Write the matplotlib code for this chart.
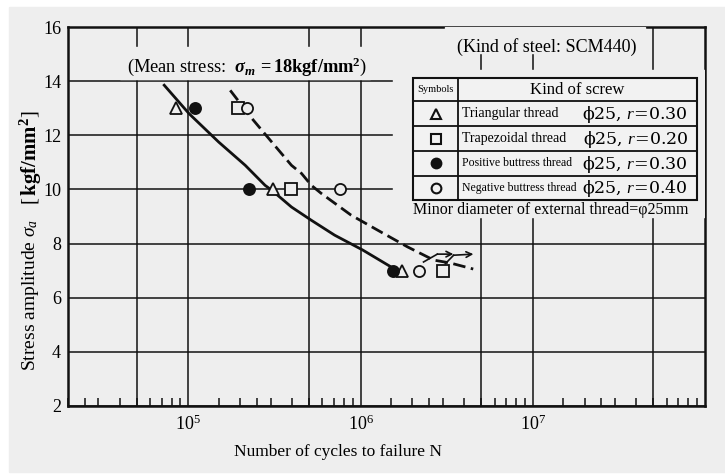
import numpy as np
import matplotlib.pyplot as plt
from matplotlib.patches import Rectangle
from matplotlib.ticker import FixedLocator, LogFormatterSciNotation, NullFormatter

plt.rcParams['font.family'] = ['Liberation Serif', 'DejaVu Serif']
plt.rcParams['mathtext.fontset'] = 'custom'
plt.rcParams['mathtext.rm'] = 'Liberation Serif'
plt.rcParams['mathtext.it'] = 'Liberation Serif:italic'
plt.rcParams['mathtext.bf'] = 'Liberation Serif:bold'
plt.rcParams['mathtext.bfit'] = 'Liberation Serif:bold:italic'

# test points (cycles, stress amplitude)
tri_n = [8.45e4, 3.08e5, 1.75e6]
tri_s = [13, 10, 7]
sq_n = [1.93e5, 3.97e5, 3.02e6]
sq_s = [13, 10, 7]
fc_n = [1.09e5, 2.25e5, 1.55e6]
fc_s = [13, 10, 7]
oc_n = [2.19e5, 7.55e5, 2.18e6]
oc_s = [13, 10, 7]

# S-N curves
solid_n = [7.24e4, 1.009e5, 1.50e5, 2.14e5, 2.79e5, 3.05e5, 3.97e5, 5.18e5, 7.07e5, 1.03e6, 1.50e6]
solid_s = [13.85, 12.80, 11.75, 10.89, 10.15, 9.97, 9.35, 8.86, 8.31, 7.76, 7.14]
dash_n = [1.75e5, 2.34e5, 3.05e5, 3.97e5, 4.54e5, 5.18e5, 5.92e5, 8.81e5, 1.31e6, 1.87e6,
          2.66e6, 3.33e6, 4.51e6]
dash_s = [13.66, 12.62, 11.75, 10.89, 10.59, 10.15, 9.85, 9.05, 8.43, 7.88,
          7.39, 7.28, 7.06]

# run-out arrows: start, knee, end
arrows = [
    ((2.32e6, 7.32), (2.79e6, 7.61), (3.46e6, 7.61)),
    ((3.11e6, 7.26), (3.47e6, 7.57), (4.52e6, 7.61)),
]

row_names = ["Triangular thread", "Trapezoidal thread",
             "Positive buttress thread", "Negative buttress thread"]
row_sizes = [10, 10, 8.5, 8.5]
row_specs = ["ϕ25, $r$=0.30", "ϕ25, $r$=0.20", "ϕ25, $r$=0.30", "ϕ25, $r$=0.40"]

bg = '#eeeeee'
ink = '#111111'
fig = plt.figure(figsize=(7.25, 4.74), dpi=100, facecolor='white')
fig.patches.append(Rectangle((9/725, 0.004), 1, (474-7)/474 - 0.004,
                             transform=fig.transFigure, color=bg, zorder=-10))
ax = fig.add_axes([68/725, 1-406/474, 637/725, 379/474])
ax.set_facecolor(bg)
ax.set_xscale('log')
ax.set_xlim(2e4, 1e8)
ax.set_ylim(2, 16)

# grid
for gx in [5e4, 1e5, 5e5, 1e6, 5e6, 1e7, 5e7]:
    ax.axvline(gx, color=ink, lw=1.1, zorder=1)
ax.set_yticks(range(2, 17, 2))
ax.grid(axis='y', color=ink, lw=1.1, zorder=1)

ax.xaxis.set_major_locator(FixedLocator([1e5, 1e6, 1e7]))
ax.xaxis.set_major_formatter(LogFormatterSciNotation())
minor = [m * 10.0**e for e in range(4, 8) for m in [1.5, 2, 2.5, 3, 4, 5, 6, 7, 8, 9]]
ax.xaxis.set_minor_locator(FixedLocator(minor))
ax.xaxis.set_minor_formatter(NullFormatter())
ax.tick_params(axis='x', which='minor', direction='in', length=6, width=1.1, color=ink)
ax.tick_params(axis='x', which='major', length=0, pad=6, labelsize=13)
ax.tick_params(axis='y', length=0, pad=5, labelsize=13)
for s in ax.spines.values():
    s.set_linewidth(1.8)
    s.set_color(ink)

# curves
ax.plot(solid_n, solid_s, color=ink, lw=2.0, zorder=3)
ax.plot(dash_n, dash_s, color=ink, lw=2.0, dashes=(4.5, 2), zorder=3)

mk = dict(color=ink, ls='none', ms=8, mew=1.3, zorder=5)
ax.plot(tri_n, tri_s, marker='^', mfc=bg, **mk)
ax.plot(sq_n, sq_s, marker='s', mfc=bg, **mk)
ax.plot(oc_n, oc_s, marker='o', mfc=bg, **mk)
ax.plot(fc_n, fc_s, marker='o', mfc=ink, **mk)

for start, knee, end in arrows:
    ax.plot([start[0], knee[0]], [start[1], knee[1]], color=ink, lw=1.2, zorder=4)
    ax.annotate('', xy=end, xytext=knee,
                arrowprops=dict(arrowstyle='->', lw=1.2, color=ink, shrinkA=0, shrinkB=0))

# cover boxes hiding the grid behind the notes
for (x0, y0, x1, y1) in [(0.082, 0.863, 0.474, 0.947),
                         (0.592, 0.931, 0.906, 1.0),
                         (0.510, 0.499, 1.0, 0.887)]:
    ax.add_patch(Rectangle((x0, y0), x1 - x0, y1 - y0, transform=ax.transAxes,
                           color=bg, zorder=6))

tr = ax.transAxes
ax.text(0.092, 0.894, "(Mean stress:  $\\mathbfit{\\sigma_m}\\,\\mathbf{=18kgf/mm^2}$)",
        transform=tr, fontsize=13.2, va='center', ha='left', zorder=7)
ax.text(0.7515, 0.948, "(Kind of steel: SCM440)", transform=tr, fontsize=13,
        ha='center', va='center', zorder=7)
ax.text(0.758, 0.517, "Minor diameter of external thread=φ25mm", transform=tr,
        fontsize=11.5, ha='center', va='center', zorder=7)

# table
tx0, tx1, tcol = 0.5423, 0.9879, 0.6124
rows_y = [0.8644, 0.8047, 0.7388, 0.6728, 0.6077, 0.5435]
ax.add_patch(Rectangle((tx0, rows_y[-1]), tx1 - tx0, rows_y[0] - rows_y[-1],
                       transform=tr, facecolor='#f2f2f2', edgecolor=ink,
                       lw=1.5, zorder=7))
for yy in rows_y[1:-1]:
    ax.plot([tx0, tx1], [yy, yy], transform=tr, color=ink, lw=1.3, zorder=8, clip_on=False)
ax.plot([tcol, tcol], [rows_y[0], rows_y[-1]], transform=tr, color=ink, lw=1.3,
        zorder=8, clip_on=False)
ax.text((tx0 + tcol) / 2, (rows_y[0] + rows_y[1]) / 2, "Symbols", transform=tr,
        fontsize=7.5, ha='center', va='center', zorder=9)
ax.text(0.799, (rows_y[0] + rows_y[1]) / 2, "Kind of screw", transform=tr,
        fontsize=12, ha='center', va='center', zorder=9)
sym_kw = [dict(marker='^', mfc='#f2f2f2'), dict(marker='s', mfc='#f2f2f2'),
          dict(marker='o', mfc=ink), dict(marker='o', mfc='#f2f2f2')]
for i in range(4):
    yc = (rows_y[i + 1] + rows_y[i + 2]) / 2
    ax.plot([(tx0 + tcol) / 2], [yc], transform=tr, color=ink, ms=7, mew=1.5,
            zorder=9, clip_on=False, **sym_kw[i])
    ax.text(0.6181, yc, row_names[i], transform=tr, fontsize=row_sizes[i],
            ha='left', va='center', zorder=9)
    ax.text(0.9733, yc - 0.003, row_specs[i], transform=tr, fontsize=12.5,
            family='DejaVu Serif', ha='right', va='center', zorder=9)

fig.text(338/725, 1 - 452/474, "Number of cycles to failure N", fontsize=12.5,
         ha='center', va='center')
fig.text(31/725, 1 - 295/474, "Stress amplitude $\\sigma_a$", fontsize=14,
         rotation=90, ha='center', va='center')
fig.text(31/725, 1 - 158/474, "[$\\,\\mathbf{kgf/mm^2}$]", fontsize=15,
         rotation=90, ha='center', va='center')

fig.savefig('out.png', dpi=100, facecolor='white')
